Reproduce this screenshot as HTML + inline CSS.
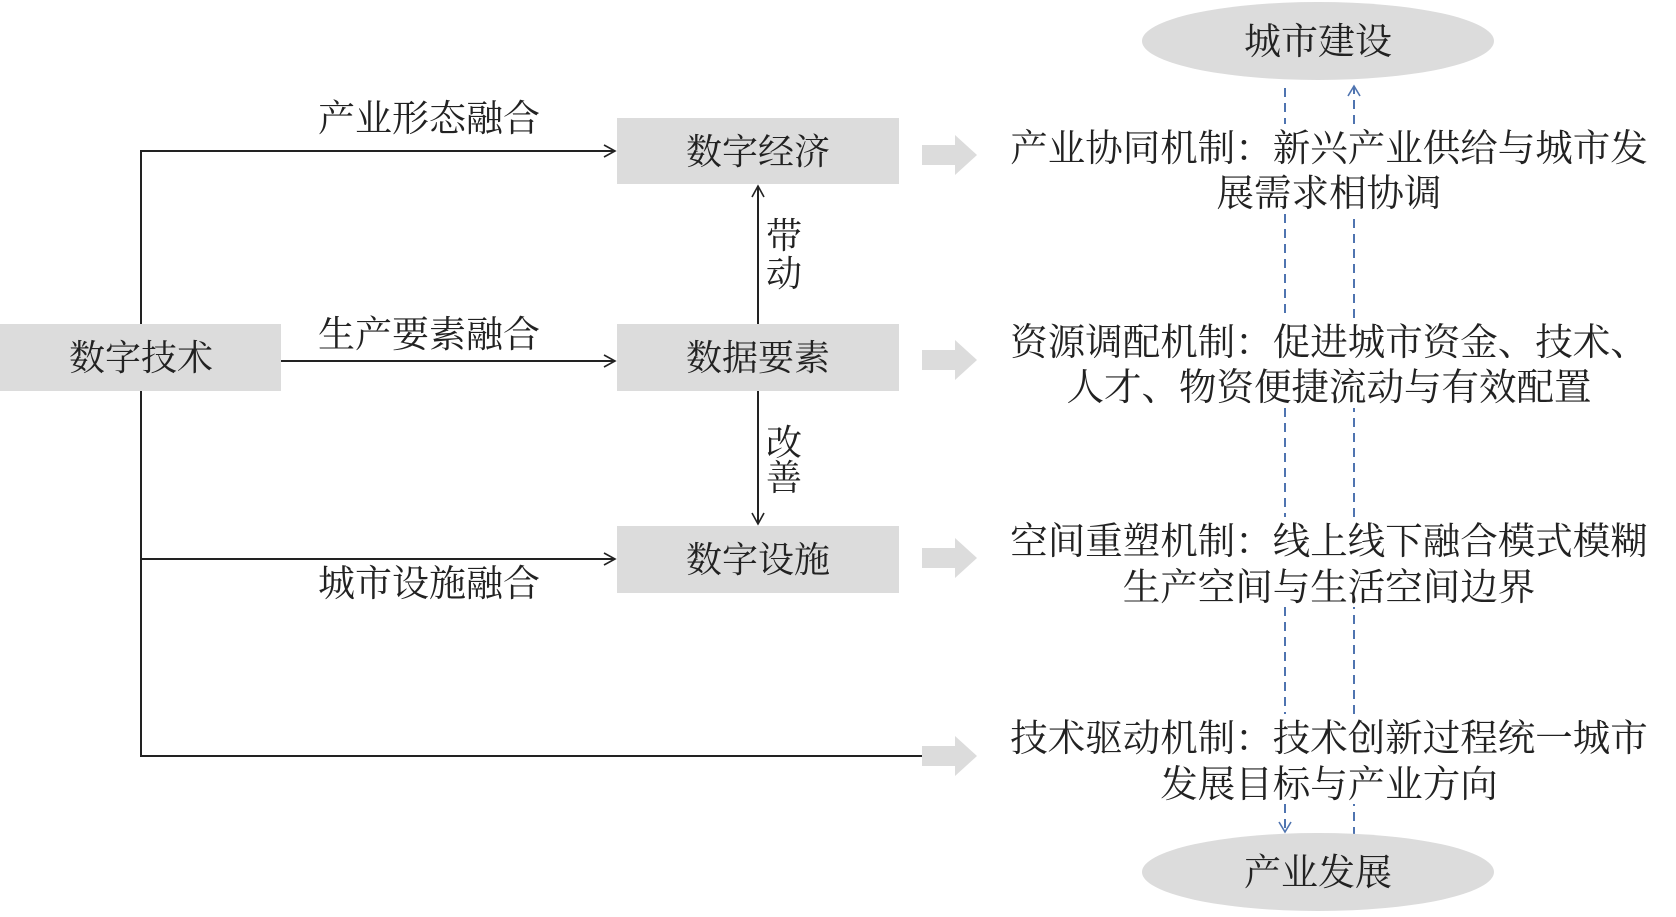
<!DOCTYPE html>
<html><head><meta charset="utf-8"><style>
html,body{margin:0;padding:0;background:#fff;}
svg text{font-family:"Liberation Serif","Noto Serif CJK SC","Noto Sans CJK SC",serif;fill:#222;}
</style></head><body>
<svg width="1676" height="912" viewBox="0 0 1676 912" xmlns="http://www.w3.org/2000/svg">
<defs>
<marker id="ah" markerWidth="14" markerHeight="14" refX="12" refY="7" orient="auto" markerUnits="userSpaceOnUse">
<path d="M1,1 L12,7 L1,13" fill="none" stroke="#222" stroke-width="1.6"/></marker>
<marker id="bh" markerWidth="14" markerHeight="14" refX="12" refY="7" orient="auto" markerUnits="userSpaceOnUse">
<path d="M2,1 L12,7 L2,13" fill="none" stroke="#4f74b0" stroke-width="1.6"/></marker>
</defs>
<!-- dashed lines (segments between text blocks) -->
<g stroke="#4f74b0" stroke-width="2" stroke-dasharray="9,6" fill="none">
<line x1="1285" y1="88" x2="1285" y2="124"/>
<line x1="1285" y1="214" x2="1285" y2="318"/>
<line x1="1285" y1="408" x2="1285" y2="517"/>
<line x1="1285" y1="607" x2="1285" y2="714"/>
<line x1="1285" y1="804" x2="1285" y2="832" marker-end="url(#bh)"/>
<line x1="1354" y1="836" x2="1354" y2="804"/>
<line x1="1354" y1="714" x2="1354" y2="607"/>
<line x1="1354" y1="517" x2="1354" y2="408"/>
<line x1="1354" y1="318" x2="1354" y2="214"/>
<line x1="1354" y1="124" x2="1354" y2="86" marker-end="url(#bh)"/>
</g>
<!-- ellipses -->
<ellipse cx="1318" cy="41" rx="176" ry="39" fill="#dcdcdc"/>
<text x="1318" y="54" font-size="37" text-anchor="middle">城市建设</text>
<ellipse cx="1318" cy="872" rx="176" ry="39" fill="#dcdcdc"/>
<text x="1318" y="885" font-size="37" text-anchor="middle">产业发展</text>
<!-- boxes -->
<rect x="0" y="324" width="281" height="67" fill="#dcdcdc"/>
<text x="141" y="370" font-size="36" text-anchor="middle">数字技术</text>
<rect x="617" y="118" width="282" height="66" fill="#dcdcdc"/>
<text x="758" y="164" font-size="36" text-anchor="middle">数字经济</text>
<rect x="617" y="324" width="282" height="67" fill="#dcdcdc"/>
<text x="758" y="370" font-size="36" text-anchor="middle">数据要素</text>
<rect x="617" y="526" width="282" height="67" fill="#dcdcdc"/>
<text x="758" y="572" font-size="36" text-anchor="middle">数字设施</text>
<!-- connectors -->
<g stroke="#222" stroke-width="2" fill="none">
<polyline points="141,324 141,151 615,151" marker-end="url(#ah)"/>
<line x1="281" y1="361" x2="615" y2="361" marker-end="url(#ah)"/>
<polyline points="141,391 141,756 922,756"/>
<line x1="141" y1="559" x2="615" y2="559" marker-end="url(#ah)"/>
<line x1="758" y1="324" x2="758" y2="186" marker-end="url(#ah)"/>
<line x1="758" y1="391" x2="758" y2="524" marker-end="url(#ah)"/>
</g>
<text x="429" y="131" font-size="37" text-anchor="middle">产业形态融合</text>
<text x="429" y="347" font-size="37" text-anchor="middle">生产要素融合</text>
<text x="429" y="596" font-size="37" text-anchor="middle">城市设施融合</text>
<text x="784" y="248" font-size="36" text-anchor="middle">带</text>
<text x="784" y="286" font-size="36" text-anchor="middle">动</text>
<text x="784" y="455" font-size="36" text-anchor="middle">改</text>
<text x="784" y="490" font-size="36" text-anchor="middle">善</text>
<!-- gray block arrows -->
<g fill="#dcdcdc">
<path d="M922,145 H955 V135 L977,155 L955,175 V165 H922Z"/>
<path d="M922,350 H955 V340 L977,360 L955,380 V370 H922Z"/>
<path d="M922,548 H955 V538 L977,558 L955,578 V568 H922Z"/>
<path d="M922,746 H955 V736 L977,756 L955,776 V766 H922Z"/>
</g>
<g font-size="37.5" text-anchor="middle">
<text x="1329" y="161">产业协同机制：新兴产业供给与城市发</text>
<text x="1329" y="206">展需求相协调</text>
<text x="1329" y="355">资源调配机制：促进城市资金、技术、</text>
<text x="1329" y="400">人才、物资便捷流动与有效配置</text>
<text x="1329" y="554">空间重塑机制：线上线下融合模式模糊</text>
<text x="1329" y="600">生产空间与生活空间边界</text>
<text x="1329" y="751">技术驱动机制：技术创新过程统一城市</text>
<text x="1329" y="797">发展目标与产业方向</text>
</g>
</svg>
</body></html>
